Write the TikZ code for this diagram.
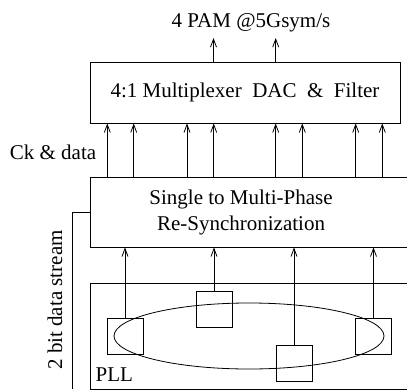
\documentclass[tikz,border=0pt]{standalone}
\usepackage{fontspec}
\setmainfont{Liberation Serif}
\usetikzlibrary{arrows.meta,shapes.geometric}

\begin{document}
\begin{tikzpicture}[x=1pt,y=-1pt,
    line width=0.8pt,
    every node/.style={font=\fontsize{21}{26}\selectfont},
    blk/.style={draw, inner sep=0pt},
    sq/.style={draw, inner sep=0pt, minimum width=36pt, minimum height=36pt},
    sig/.style={-{Straight Barb[length=8pt,width=6pt]}}]
    \clip (0,0) rectangle (407,391);

    % Draw the blocks
    \node[blk, minimum width=310pt, minimum height=61pt] (mux) at (245,92.5) {};
    \node at (mux) {4:1 Multiplexer~~DAC~~\&~~Filter};
    \node[blk, minimum width=340pt, minimum height=70pt] (sync) at (260,212) {};
    \node[align=center] (synctxt) at (241,212) {Single to Multi-Phase\\Re-Synchronization};
    \node[blk, minimum width=340pt, minimum height=106pt] (pll) at (260,336) {};

    % Draw the oscillator ring
    \node[draw, ellipse, inner sep=0pt, minimum width=270pt, minimum height=66pt] (ring) at (249,336) {};
    \node[sq] (d1) at (125,336) {};
    \node[sq] (d2) at (214,309.5) {};
    \node[sq] (d3) at (294,363) {};
    \node[sq] (d4) at (373.5,336) {};

    % Draw the labels
    \node[anchor=base] (pam) at (251,27) {4 PAM @5Gsym/s};
    \node (ck) at (53,152) {Ck \& data};
    \node[anchor=south west] (pllname) at (92,385) {PLL};
    \node[rotate=90] (stream) at (55,300) {2 bit data stream};
    \coordinate (busend) at (72,389);

    % Draw the arrows
    \draw[sig] (mux.north -| 213.5,0) -- (213.5,38);
    \draw[sig] (mux.north -| 275.7,0) -- (275.7,38);
    \foreach \x in {107.3,133.7,187,213.7,275.7,302.3,355.7,382.3}
        \draw[sig] (sync.north -| \x,0) -- (mux.south -| \x,0);
    \foreach \d in {d1,d2,d3,d4}
        \draw[sig] (\d.north) -- (\d.north |- sync.south);
    \draw (sync.west) -| (busend);
\end{tikzpicture}
\end{document}
